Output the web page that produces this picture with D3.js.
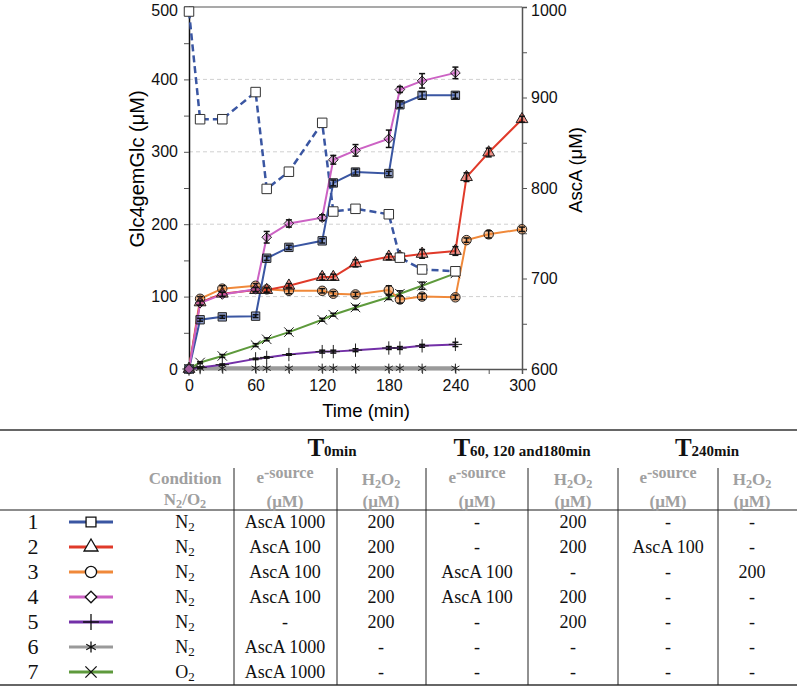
<!DOCTYPE html>
<html><head><meta charset="utf-8">
<script src="https://cdn.jsdelivr.net/npm/d3@7"></script>
<style>body{margin:0;background:#fff}svg{display:block}</style>
</head><body>
<svg id="c" width="797" height="687"></svg>
<script>
// ---- data ----
const timesA = [0,10,30,60,70,90,120,130,150,180,190,210,240];
const timesB = [0,10,30,60,70,90,120,130,150,180,190,210,240,250,270,300];
const s1 = [0,68,72,73,153,168,177,257,272,270,365,378,378];
const s2 = [0,92,104,109,109,115,127,127,146,155,155,159,163,265,299,345];
const s3 = [0,97,111,115,110,108,108,104,103,109,96,100,99,178,186,193];
const s4 = [0,91,103,110,182,201,209,289,302,318,386,398,409];
const s5 = [0,2,6,14,16,20,24,24,26,29,29,32,34];
const s6 = [0,1,1,1,1,1,1,1,1,1,1,1,1];
const s7 = [0,9,18,33,41,51,68,75,85,99,104,115,132];
const e1 = [0,2,2,2,3,3,3,4,4,3,4,5,4];
const e2 = [0,3,3,3,3,3,4,4,5,4,5,6,6,6,6,4];
const e3 = [0,3,4,3,3,4,3,3,3,6,5,4,3,3,5,3];
const e4 = [0,3,3,3,8,5,4,6,8,12,4,10,8];
const e5 = [0,1,1,1,1,1,2,2,2,2,2,2,3];
const e6 = [0,0,0,0,0,0,0,0,0,0,0,0,0];
const e7 = [0,1,2,2,2,2,2,2,3,3,4,5,3];
const ascA = [995,876,876,906,799,818,872,774,777,771,723,710,708];
const xTicks = [0,60,120,180,240,300];
const yLTicks = [0,100,200,300,400,500];
const yRTicks = [600,700,800,900,1000];

const rowIds = ["1","2","3","4","5","6","7"];
const colCond = ["N2","N2","N2","N2","N2","N2","O2"];
const colE0 = ["AscA 1000","AscA 100","AscA 100","AscA 100","-","AscA 1000","AscA 1000"];
const colH0 = ["200","200","200","200","200","-","-"];
const colE60 = ["-","-","AscA 100","AscA 100","-","-","-"];
const colH60 = ["200","200","-","200","200","-","-"];
const colE240 = ["-","AscA 100","-","-","-","-","-"];
const colH240 = ["-","-","200","-","-","-","-"];

const series = [
  {t:timesA, v:s1, e:e1, color:"#3a56a2", sym:d3.symbolSquare, size:70},
  {t:timesB, v:s2, e:e2, color:"#e03a2a", sym:d3.symbolTriangle, size:60},
  {t:timesB, v:s3, e:e3, color:"#f0893a", sym:d3.symbolCircle, size:70},
  {t:timesA, v:s4, e:e4, color:"#cc62c4", sym:d3.symbolDiamond2, size:60},
  {t:timesA, v:s5, e:e5, color:"#7330a8", sym:d3.symbolPlus, size:60},
  {t:timesA, v:s6, e:e6, color:"#9a9a9a", sym:d3.symbolAsterisk, size:60},
  {t:timesA, v:s7, e:e7, color:"#5e9a3c", sym:d3.symbolTimes, size:60}
];
const strokeSyms = [d3.symbolPlus, d3.symbolAsterisk, d3.symbolTimes];

const svg = d3.select("#c");
const x = d3.scaleLinear().domain([0,300]).range([189,522]);
const yL = d3.scaleLinear().domain([0,500]).range([369,7]);
const yR = d3.scaleLinear().domain([600,1000]).range([369,7]);
const sans = "Liberation Sans, Arial, sans-serif";
const serif = "Liberation Serif, Times New Roman, serif";

// gridlines
svg.append("g").selectAll("line").data(yLTicks.slice(1,5)).join("line")
  .attr("x1",189).attr("x2",522).attr("y1",d=>yL(d)).attr("y2",d=>yL(d))
  .attr("stroke","#d0d0d0").attr("stroke-dasharray","4,3").attr("stroke-width",1);

// top frame line
svg.append("line").attr("x1",189).attr("x2",522).attr("y1",7).attr("y2",7).attr("stroke","#555").attr("stroke-width",1.2);

// axes
const gx = svg.append("g").attr("transform","translate(0,369)")
  .call(d3.axisBottom(x).tickValues(d3.range(0,301,30)).tickSize(5).tickFormat(d=>xTicks.includes(d)?d:""));
const gyl = svg.append("g").attr("transform","translate(189,0)")
  .call(d3.axisLeft(yL).tickValues(d3.range(0,501,50)).tickSize(5).tickFormat(d=>yLTicks.includes(d)?d:""));
const gyr = svg.append("g").attr("transform","translate(522,0)")
  .call(d3.axisRight(yR).tickValues(d3.range(600,1001,50)).tickSize(5).tickFormat(d=>yRTicks.includes(d)?d:""));
[gx,gyl,gyr].forEach(g=>{
  g.selectAll("text").attr("font-family",sans).attr("font-size",16).attr("fill","#111");
  g.select(".domain").attr("stroke","#555").attr("stroke-width",1.5);
  g.selectAll(".tick line").attr("stroke","#555");
});
gyl.select(".domain").attr("stroke","#111");
gx.selectAll("text").attr("dy","0.9em");
gyl.selectAll("text").attr("x",-11);
gyr.selectAll("text").attr("x",9);
gyl.selectAll(".tick").filter(d=>d===500).select("text").attr("dy","0.5em");
gyr.selectAll(".tick").filter(d=>d===1000).select("text").attr("dy","0.5em");

svg.append("text").attr("x",366).attr("y",417).attr("text-anchor","middle")
  .attr("font-family",sans).attr("font-size",18.5).text("Time (min)");
svg.append("text").attr("transform","translate(144,169) rotate(-90)").attr("text-anchor","middle")
  .attr("font-family",sans).attr("font-size",20).text("Glc4gemGlc (μM)");
svg.append("text").attr("transform","translate(582,170) rotate(-90)").attr("text-anchor","middle")
  .attr("font-family",sans).attr("font-size",18.5).text("AscA (μM)");

// AscA dashed
const ascPts = timesA.map((t,i)=>[t,ascA[i]]);
svg.append("path").datum(ascPts)
  .attr("d",d3.line().x(d=>x(d[0])).y(d=>yR(d[1])))
  .attr("fill","none").attr("stroke","#3a56a2").attr("stroke-width",2.5).attr("stroke-dasharray","7,4");

// series lines
const order = [5,4,6,2,1,0,3];
order.forEach(k=>{
  const s = series[k];
  const pts = s.t.map((t,i)=>[t,s.v[i],s.e[i]]);
  svg.append("path").datum(pts)
    .attr("d",d3.line().x(d=>x(d[0])).y(d=>yL(d[1])))
    .attr("fill","none").attr("stroke",s.color).attr("stroke-width",k===5?4:2);
});
order.forEach(k=>{
  const s = series[k];
  const pts = s.t.map((t,i)=>[t,s.v[i],s.e[i]]);
  const g = svg.append("g");
  const isStroke = strokeSyms.includes(s.sym);
  g.selectAll("path").data(pts).join("path")
    .attr("transform",d=>`translate(${x(d[0])},${yL(d[1])})`)
    .attr("d",d3.symbol().type(s.sym).size(s.size))
    .attr("fill",isStroke?"none":s.color).attr("fill-opacity",0.55)
    .attr("stroke","#222").attr("stroke-width",1);
  const eb = g.selectAll("g.eb").data(pts.filter(d=>d[2]>0)).join("g");
  eb.append("line").attr("x1",d=>x(d[0])).attr("x2",d=>x(d[0]))
    .attr("y1",d=>yL(d[1]-d[2])).attr("y2",d=>yL(d[1]+d[2])).attr("stroke","#111").attr("stroke-width",1.5);
  [-1,1].forEach(sg=>{
    eb.append("line").attr("x1",d=>x(d[0])-3).attr("x2",d=>x(d[0])+3)
      .attr("y1",d=>yL(d[1]+sg*d[2])).attr("y2",d=>yL(d[1]+sg*d[2])).attr("stroke","#111").attr("stroke-width",1.5);
  });
});
// AscA markers
svg.append("g").selectAll("path").data(ascPts).join("path")
  .attr("transform",d=>`translate(${x(d[0])},${yR(d[1])})`)
  .attr("d",d3.symbol().type(d3.symbolSquare).size(90))
  .attr("fill","#fff").attr("stroke","#333").attr("stroke-width",1);

// ---- table ----
const T = svg.append("g");
T.append("line").attr("x1",0).attr("x2",797).attr("y1",430).attr("y2",430).attr("stroke","#666").attr("stroke-width",2);
T.append("line").attr("x1",0).attr("x2",797).attr("y1",510).attr("y2",510).attr("stroke","#666").attr("stroke-width",1.5);
T.append("line").attr("x1",0).attr("x2",797).attr("y1",685).attr("y2",685).attr("stroke","#333").attr("stroke-width",1.5);
[234,337,426,528,618,718].forEach(xx=>{
  T.append("line").attr("x1",xx).attr("x2",xx).attr("y1",468).attr("y2",685).attr("stroke","#222").attr("stroke-width",1);
});
function tHead(cx, big, small){
  const t = T.append("text").attr("x",cx).attr("y",456).attr("text-anchor","middle")
    .attr("font-family",serif).attr("font-weight","bold").attr("fill","#111");
  t.append("tspan").attr("font-size",25).text(big);
  t.append("tspan").attr("font-size",15).text(small);
}
tHead(332,"T","0min");
tHead(522,"T","60, 120 and180min");
tHead(707,"T","240min");

const gray = "#a0a0a0";
function sub(t, parts){ // parts: [text, isSub]
  let shifted = false;
  parts.forEach(([s,isSub])=>{
    const ts = t.append("tspan").text(s);
    if(isSub){ ts.attr("font-size","0.72em").attr("dy", shifted? null : "0.22em"); shifted = true; }
    else if(shifted){ ts.attr("dy","-0.16em"); shifted = false; }
  });
}
function hdr(cx, y, parts, size){
  const t = T.append("text").attr("x",cx).attr("y",y).attr("text-anchor","middle")
    .attr("font-family",serif).attr("font-weight","bold").attr("font-size",size||17).attr("fill",gray);
  sub(t, parts);
  return t;
}
hdr(185,484,[["Condition",false]]);
hdr(185,505,[["N",false],["2",true],["/O",false],["2",true]]);
[285,477,668].forEach(cx=>{
  const t = T.append("text").attr("x",cx).attr("y",483).attr("text-anchor","middle")
    .attr("font-family",serif).attr("font-weight","bold").attr("font-size",17).attr("fill",gray);
  t.append("tspan").text("e");
  t.append("tspan").attr("font-size",16).attr("dy","-0.3em").text("-source");
  hdr(cx,507,[["(μM)",false]]);
});
[381,573,752].forEach(cx=>{
  hdr(cx,485,[["H",false],["2",true],["O",false],["2",true]]);
  hdr(cx,507,[["(μM)",false]]);
});

const rowY = rowIds.map((r,i)=>522+i*25);
function cell(cx, i, txt, parts){
  const t = T.append("text").attr("x",cx).attr("y",rowY[i]+6).attr("text-anchor","middle")
    .attr("font-family",serif).attr("font-size",18).attr("fill","#111");
  if(parts) sub(t, parts); else t.text(txt);
}
rowIds.forEach((r,i)=>{
  T.append("text").attr("x",33).attr("y",rowY[i]+7).attr("text-anchor","middle")
    .attr("font-family",serif).attr("font-size",22).attr("fill","#111").text(r);
  const s = series[i];
  T.append("line").attr("x1",69).attr("x2",113).attr("y1",rowY[i]).attr("y2",rowY[i])
    .attr("stroke",s.color).attr("stroke-width",3);
  const isStroke = strokeSyms.includes(s.sym);
  T.append("path").attr("transform",`translate(91,${rowY[i]})`)
    .attr("d",d3.symbol().type(s.sym).size(s.size*1.4))
    .attr("fill",isStroke?"none":"#fff").attr("stroke","#111").attr("stroke-width",1.3);
  cell(185,i,null,[[colCond[i][0],false],[colCond[i][1],true]]);
  cell(285,i,colE0[i]);
  cell(381,i,colH0[i]);
  cell(477,i,colE60[i]);
  cell(573,i,colH60[i]);
  cell(668,i,colE240[i]);
  cell(752,i,colH240[i]);
});
</script>
</body></html>
